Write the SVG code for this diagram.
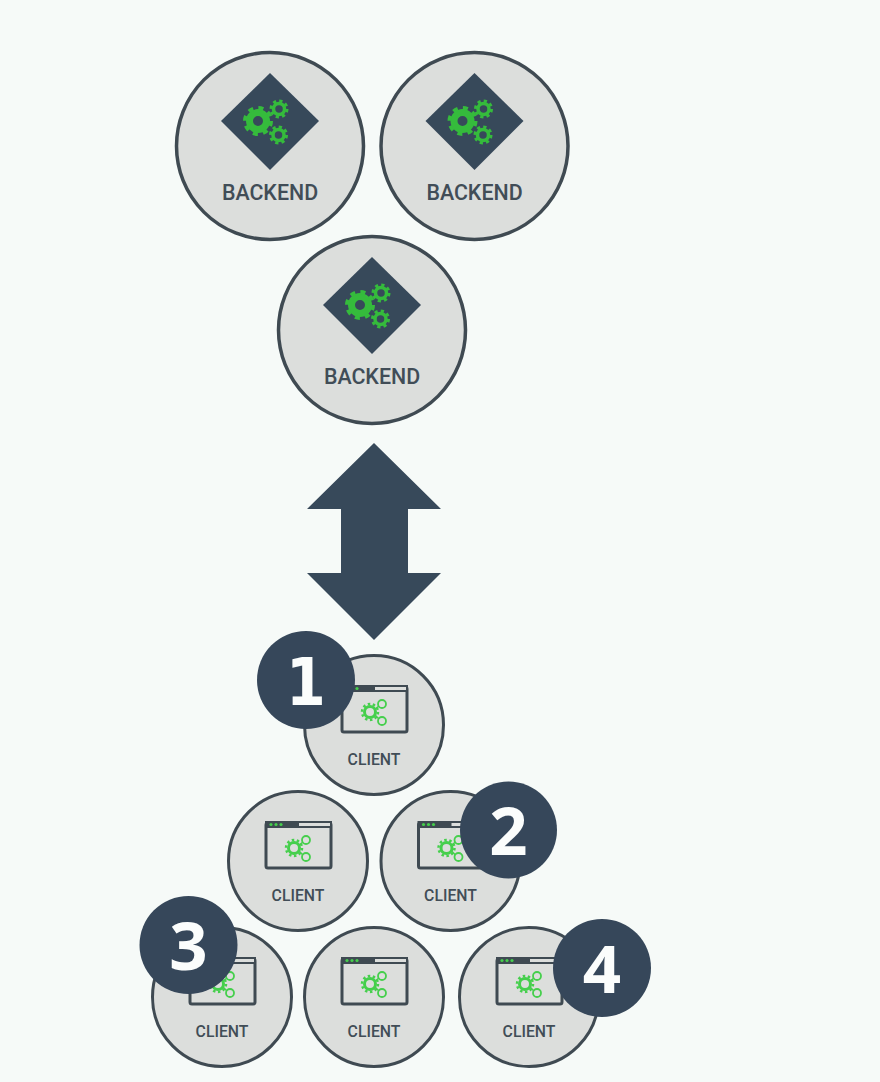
<svg xmlns="http://www.w3.org/2000/svg" width="880" height="1082" viewBox="0 0 880 1082">
<style>
.disc{fill:#dcdedc;stroke:#3f4a52}
.label{font-family:Roboto,"Liberation Sans",sans-serif;font-weight:500;fill:#414d57;text-anchor:middle}
.num{font-family:"Open Sans","Liberation Sans",sans-serif;font-weight:700;font-size:67px;fill:#fbfdfc;text-anchor:middle}
.one{font-family:"DejaVu Sans","Liberation Sans",sans-serif;font-size:65px}
.badge{fill:#36475a}
.g{fill:none;stroke:#35bb3c}
.c{fill:none;stroke:#45cf4c}
</style>
<defs>
<g id="bgears">
<circle class="g" cx="-12" cy="0" r="8.500" stroke-width="7"/>
<circle class="g" cx="-12" cy="0" r="13" stroke-width="4" stroke-dasharray="5 5.210"/>
<circle class="g" cx="9" cy="-12" r="5.500" stroke-width="3.500"/>
<circle class="g" cx="9" cy="-12" r="8" stroke-width="3" stroke-dasharray="3.200 3.080"/>
<circle class="g" cx="8.500" cy="14" r="5.500" stroke-width="3.500"/>
<circle class="g" cx="8.500" cy="14" r="8" stroke-width="3" stroke-dasharray="3.200 3.080"/>
</g>
<g id="backend">
<circle class="disc" r="93.500" stroke-width="3.500"/>
<polygon points="0,-73 49,-25 0,24 -49,-25" fill="#37495a"/>
<use href="#bgears" x="0" y="-25"/>
<text class="label" x="0" y="54" font-size="21.400">BACKEND</text>
</g>
<g id="client">
<circle class="disc" r="69.500" stroke-width="3"/>
<rect x="-32" y="-38" width="65" height="45" rx="2" fill="none" stroke="#3f4a52" stroke-width="3"/>
<rect x="-33" y="-40" width="67" height="7" fill="#3f4a52"/>
<rect x="1" y="-38" width="31" height="3" fill="#dcdedc"/>
<circle cx="-27" cy="-36.500" r="1.600" fill="#45cf4c"/><circle cx="-22" cy="-36.500" r="1.600" fill="#45cf4c"/><circle cx="-17" cy="-36.500" r="1.600" fill="#45cf4c"/>
<circle class="c" cx="-4" cy="-13" r="5.500" stroke-width="3"/>
<circle class="c" cx="-4" cy="-13" r="8" stroke-width="2.500" stroke-dasharray="2.500 2.530"/>
<circle class="c" cx="8" cy="-21" r="4" stroke-width="1.800"/>
<circle class="c" cx="8" cy="-4" r="4" stroke-width="1.800"/>
<path class="c" stroke-width="1.500" d="M1,-16 L5,-19 M1,-10 L5,-6"/>
<text class="label" x="0" y="40" font-size="15.800">CLIENT</text>
</g>
</defs>
<rect width="880" height="1082" fill="#f6faf8"/>
<g id="connectors">
<polygon points="374,443 441,509 408,509 408,573 441,573 374,640 307,573 341,573 341,509 307,509" fill="#37495a"/>
</g>
<g id="backend-1"><use href="#backend" x="270" y="146"/></g>
<g id="backend-2"><use href="#backend" x="474.500" y="146"/></g>
<g id="backend-3"><use href="#backend" x="372" y="330"/></g>
<g id="client-1"><use href="#client" x="374" y="725"/></g>
<g id="client-2"><use href="#client" x="298" y="861"/></g>
<g id="client-3"><use href="#client" x="450.500" y="861"/></g>
<g id="client-4"><use href="#client" x="222" y="997"/></g>
<g id="client-5"><use href="#client" x="374" y="997"/></g>
<g id="client-6"><use href="#client" x="529" y="997"/></g>
<g id="badge-1"><circle class="badge" cx="306" cy="680" r="49"/><text class="num one" transform="translate(306 705) scale(0.88 1)">1</text></g>
<g id="badge-2"><circle class="badge" cx="508.500" cy="830" r="48.500"/><text class="num" x="508.500" y="855">2</text></g>
<g id="badge-3"><circle class="badge" cx="188.500" cy="945" r="49"/><text class="num" x="188.500" y="970">3</text></g>
<g id="badge-4"><circle class="badge" cx="602" cy="968" r="49"/><text class="num" x="602" y="993">4</text></g>
</svg>
